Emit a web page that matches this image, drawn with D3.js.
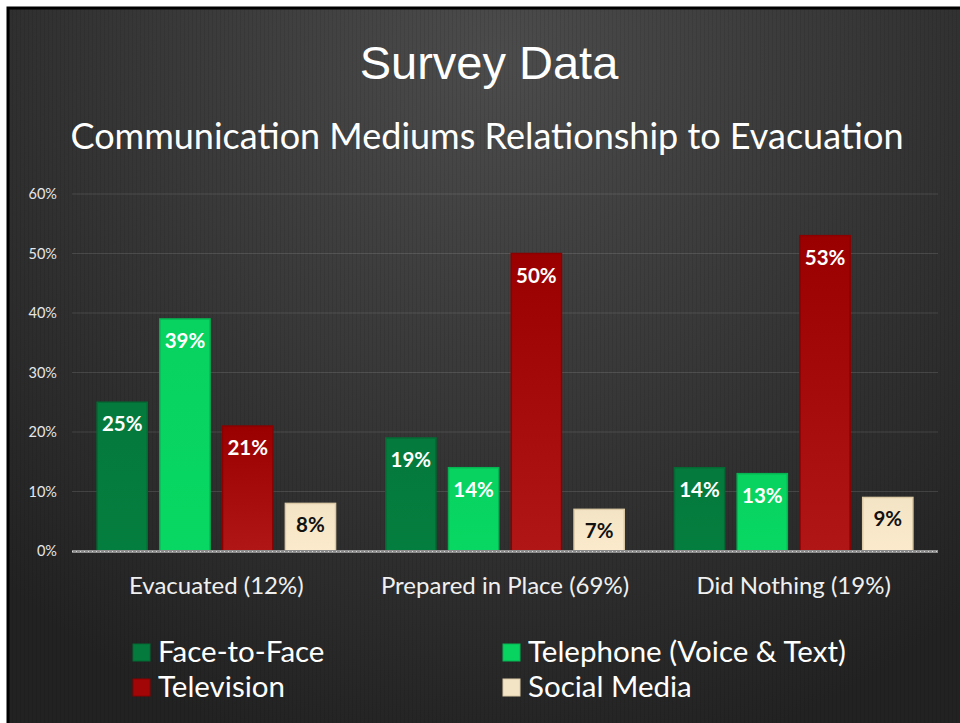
<!DOCTYPE html>
<html>
<head>
<meta charset="utf-8">
<style>
  body { margin: 0; background: #fff; }
  svg { display: block; }
</style>
</head>
<body>
<svg width="960" height="723" id="chart"></svg>
<script src="https://cdn.jsdelivr.net/npm/d3@7/dist/d3.min.js"></script>
<script>

// data
var groups = ["Evacuated (12%)", "Prepared in Place (69%)", "Did Nothing (19%)"];
var mediums = ["Face-to-Face", "Telephone (Voice & Text)", "Television", "Social Media"];
var faceToFace = [0.25, 0.19, 0.14];
var telephone = [0.39, 0.14, 0.13];
var television = [0.21, 0.50, 0.53];
var socialMedia = [0.08, 0.07, 0.09];
var yTicks = [0, 0.1, 0.2, 0.3, 0.4, 0.5, 0.6];

var seriesValues = [faceToFace, telephone, television, socialMedia];
var colors = ["#047a3c", "#08d260", "#a30606", "#f4e4c6"];
var colorsDark = ["#036a33", "#05b552", "#8c0000", "#dccaa6"];
var labelColors = ["#fff", "#fff", "#fff", "#111"];

var svg = d3.select('#chart'),
    width = +svg.attr("width"),
    height = +svg.attr("height");

var defs = svg.append("defs");

var bg = defs.append("radialGradient")
    .attr("id", "bg")
    .attr("gradientUnits", "userSpaceOnUse")
    .attr("cx", 500).attr("cy", 60).attr("r", 720);
bg.append("stop").attr("offset", "0").attr("stop-color", "#4c4c4c");
bg.append("stop").attr("offset", "0.45").attr("stop-color", "#393939");
bg.append("stop").attr("offset", "1").attr("stop-color", "#222");

// faint vertical texture of the slide background
var pat = defs.append("pattern")
    .attr("id", "stripes")
    .attr("patternUnits", "userSpaceOnUse")
    .attr("width", 4).attr("height", 4);
pat.append("rect").attr("width", 1).attr("height", 4).attr("fill", "rgba(0,0,0,0.08)");

colors.forEach(function(c, i) {
  var g = defs.append("linearGradient")
      .attr("id", "bar" + i)
      .attr("x1", 0).attr("x2", 0).attr("y1", 0).attr("y2", 1);
  g.append("stop").attr("offset", "0").attr("stop-color", i == 2 ? "#9a0000" : c);
  g.append("stop").attr("offset", "1").attr("stop-color", i == 2 ? "#b01616" : d3.color(c).brighter(0.08));
});

// slide
svg.append("rect")
    .attr("x", 8).attr("y", 8)
    .attr("width", width).attr("height", height)
    .attr("fill", "url(#bg)")
    .attr("stroke", "#000").attr("stroke-width", 3);
svg.append("rect")
    .attr("x", 9).attr("y", 9)
    .attr("width", width).attr("height", height)
    .attr("fill", "url(#stripes)");

svg.append("text")
    .attr("x", 489).attr("y", 79)
    .attr("text-anchor", "middle")
    .style("font-family", "'Liberation Sans', Arial, sans-serif")
    .style("font-size", "47px")
    .style("fill", "#fff")
    .text("Survey Data");

svg.append("text")
    .attr("x", 487).attr("y", 149)
    .attr("text-anchor", "middle")
    .style("font-family", "Lato, sans-serif")
    .style("font-size", "36px")
    .style("fill", "#fff")
    .text("Communication Mediums Relationship to Evacuation");

var plot = { left: 72, right: 938, top: 194, bottom: 551 };

var x0 = d3.scaleBand()
    .domain(groups)
    .range([plot.left, plot.right]);

var x1 = d3.scaleBand()
    .domain(d3.range(mediums.length))
    .range([0, x0.bandwidth()])
    .paddingInner(0.2)
    .paddingOuter(0.4);

var y = d3.scaleLinear()
    .domain([0, 0.6])
    .range([plot.bottom, plot.top]);

// gridlines
svg.append("g")
    .selectAll("line")
    .data(yTicks.slice(1))
    .enter().append("line")
      .attr("x1", plot.left).attr("x2", plot.right)
      .attr("y1", function(d) { return y(d); })
      .attr("y2", function(d) { return y(d); })
      .style("stroke", "rgba(255,255,255,0.12)")
      .style("stroke-width", 1);

// y axis labels
var yAxis = svg.append("g")
    .attr("transform", "translate(" + plot.left + ",0)")
    .call(d3.axisLeft(y).tickValues(yTicks).tickFormat(d3.format(".0%")).tickSize(0).tickPadding(15));
yAxis.select(".domain").remove();
yAxis.selectAll("text")
    .style("font-family", "Lato, sans-serif")
    .style("font-size", "14.5px")
    .style("fill", "#e6e6e6");

// bars
var group = svg.append("g")
    .selectAll("g")
    .data(groups)
    .enter().append("g")
      .attr("transform", function(d) { return "translate(" + x0(d) + ",0)"; });

var bar = group.selectAll("g")
    .data(function(d, gi) {
      return seriesValues.map(function(s, si) { return { series: si, value: s[gi] }; });
    })
    .enter().append("g");

bar.append("rect")
    .attr("x", function(d) { return x1(d.series); })
    .attr("y", function(d) { return y(d.value); })
    .attr("width", x1.bandwidth())
    .attr("height", function(d) { return y(0) - y(d.value); })
    .style("fill", function(d) { return "url(#bar" + d.series + ")"; })
    .style("stroke", function(d) { return colorsDark[d.series]; })
    .style("stroke-width", 1.5);

bar.append("text")
    .attr("x", function(d) { return x1(d.series) + x1.bandwidth() / 2; })
    .attr("y", function(d) { return y(d.value) + 29; })
    .attr("text-anchor", "middle")
    .style("font-family", "Lato, sans-serif")
    .style("font-weight", "bold")
    .style("font-size", "20.5px")
    .style("fill", function(d) { return labelColors[d.series]; })
    .text(function(d) { return d3.format(".0%")(d.value); });

// baseline
svg.append("line")
    .attr("x1", plot.left).attr("x2", plot.right)
    .attr("y1", y(0) + 0.5).attr("y2", y(0) + 0.5)
    .style("stroke", "#8c8c8c").style("stroke-width", 3);
svg.append("line")
    .attr("x1", plot.left).attr("x2", plot.right)
    .attr("y1", y(0) + 0.5).attr("y2", y(0) + 0.5)
    .style("stroke", "#d8d8d8").style("stroke-width", 1)
    .style("stroke-dasharray", "1,3");

// category labels
svg.append("g")
    .selectAll("text")
    .data(groups)
    .enter().append("text")
      .attr("x", function(d) { return x0(d) + x0.bandwidth() / 2; })
      .attr("y", 594)
      .attr("text-anchor", "middle")
      .style("font-family", "Lato, sans-serif")
      .style("font-size", "24px")
      .style("fill", "#f0f0f0")
      .text(function(d) { return d; });

// legend
var legendPos = [[133, 652], [503, 652], [133, 687], [503, 687]];
var legend = svg.append("g")
    .selectAll("g")
    .data(d3.range(mediums.length))
    .enter().append("g")
      .attr("transform", function(d, i) { return "translate(" + legendPos[i][0] + "," + legendPos[i][1] + ")"; });

legend.append("rect")
    .attr("x", 0).attr("y", -8)
    .attr("width", 17).attr("height", 17)
    .style("fill", function(d) { return colors[d]; })
    .style("stroke", function(d) { return colorsDark[d]; })
    .style("stroke-width", 1);

legend.append("text")
    .attr("x", 25).attr("y", 10)
    .style("font-family", "Lato, sans-serif")
    .style("font-size", "29.5px")
    .style("fill", "#fff")
    .text(function(d) { return mediums[d]; });

</script>
</body>
</html>
